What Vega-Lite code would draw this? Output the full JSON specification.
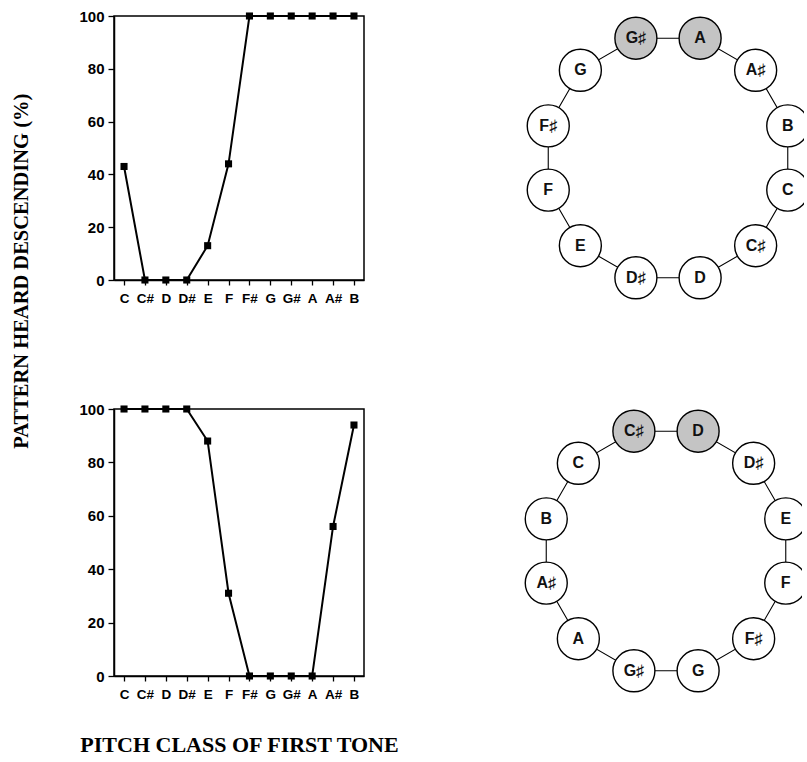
{
  "$schema": "https://vega.github.io/schema/vega-lite/v6.json",
  "padding": {"left": 11, "top": 8, "right": 0, "bottom": 5},
  "background": "#ffffff",
  "title": {
    "text": "PATTERN HEARD DESCENDING (%)",
    "orient": "left",
    "anchor": "middle",
    "font": "Liberation Serif",
    "fontSize": 20.5,
    "fontWeight": "bold",
    "color": "#000000",
    "offset": 46,
    "dx": 111
  },
  "datasets": {
    "upper": [
      {"pitch": "C", "pct": 43}, {"pitch": "C#", "pct": 0}, {"pitch": "D", "pct": 0},
      {"pitch": "D#", "pct": 0}, {"pitch": "E", "pct": 13}, {"pitch": "F", "pct": 44},
      {"pitch": "F#", "pct": 100}, {"pitch": "G", "pct": 100}, {"pitch": "G#", "pct": 100},
      {"pitch": "A", "pct": 100}, {"pitch": "A#", "pct": 100}, {"pitch": "B", "pct": 100}
    ],
    "lower": [
      {"pitch": "C", "pct": 100}, {"pitch": "C#", "pct": 100}, {"pitch": "D", "pct": 100},
      {"pitch": "D#", "pct": 100}, {"pitch": "E", "pct": 88}, {"pitch": "F", "pct": 31},
      {"pitch": "F#", "pct": 0}, {"pitch": "G", "pct": 0}, {"pitch": "G#", "pct": 0},
      {"pitch": "A", "pct": 0}, {"pitch": "A#", "pct": 56}, {"pitch": "B", "pct": 94}
    ],
    "ringUpper": [
      {"note": "G♯", "i": 0, "x": -0.259, "y": 0.966, "shade": "yes"},
      {"note": "A", "i": 1, "x": 0.259, "y": 0.966, "shade": "yes"},
      {"note": "A♯", "i": 2, "x": 0.707, "y": 0.707, "shade": "no"},
      {"note": "B", "i": 3, "x": 0.966, "y": 0.259, "shade": "no"},
      {"note": "C", "i": 4, "x": 0.966, "y": -0.259, "shade": "no"},
      {"note": "C♯", "i": 5, "x": 0.707, "y": -0.707, "shade": "no"},
      {"note": "D", "i": 6, "x": 0.259, "y": -0.966, "shade": "no"},
      {"note": "D♯", "i": 7, "x": -0.259, "y": -0.966, "shade": "no"},
      {"note": "E", "i": 8, "x": -0.707, "y": -0.707, "shade": "no"},
      {"note": "F", "i": 9, "x": -0.966, "y": -0.259, "shade": "no"},
      {"note": "F♯", "i": 10, "x": -0.966, "y": 0.259, "shade": "no"},
      {"note": "G", "i": 11, "x": -0.707, "y": 0.707, "shade": "no"}
    ],
    "ringLower": [
      {"note": "C♯", "i": 0, "x": -0.259, "y": 0.966, "shade": "yes"},
      {"note": "D", "i": 1, "x": 0.259, "y": 0.966, "shade": "yes"},
      {"note": "D♯", "i": 2, "x": 0.707, "y": 0.707, "shade": "no"},
      {"note": "E", "i": 3, "x": 0.966, "y": 0.259, "shade": "no"},
      {"note": "F", "i": 4, "x": 0.966, "y": -0.259, "shade": "no"},
      {"note": "F♯", "i": 5, "x": 0.707, "y": -0.707, "shade": "no"},
      {"note": "G", "i": 6, "x": 0.259, "y": -0.966, "shade": "no"},
      {"note": "G♯", "i": 7, "x": -0.259, "y": -0.966, "shade": "no"},
      {"note": "A", "i": 8, "x": -0.707, "y": -0.707, "shade": "no"},
      {"note": "A♯", "i": 9, "x": -0.966, "y": -0.259, "shade": "no"},
      {"note": "B", "i": 10, "x": -0.966, "y": 0.259, "shade": "no"},
      {"note": "C", "i": 11, "x": -0.707, "y": 0.707, "shade": "no"}
    ]
  },
  "spacing": 95,
  "vconcat": [
    {
      "spacing": 153,
      "hconcat": [
        {
          "width": 250,
          "height": 264,
          "data": {"name": "upper"},
          "encoding": {
            "x": {
              "field": "pitch", "type": "ordinal",
              "sort": ["C", "C#", "D", "D#", "E", "F", "F#", "G", "G#", "A", "A#", "B"],
              "scale": {"type": "point", "padding": 0.48},
              "axis": {"title": null, "labelAngle": 0}
            },
            "y": {
              "field": "pct", "type": "quantitative",
              "scale": {"domain": [0, 100], "nice": false},
              "axis": {"title": null, "values": [0, 20, 40, 60, 80, 100]}
            }
          },
          "layer": [
            {"mark": {"type": "line", "color": "#000000", "strokeWidth": 2}},
            {"mark": {"type": "point", "shape": "square", "filled": true, "size": 50, "color": "#000000", "opacity": 1}}
          ]
        },
        {
          "width": 286,
          "height": 284,
          "view": {"stroke": null},
          "data": {"name": "ringUpper"},
          "encoding": {
            "x": {"field": "x", "type": "quantitative", "scale": {"domain": [-1.21, 1.097], "nice": false, "zero": false}, "axis": null},
            "y": {"field": "y", "type": "quantitative", "scale": {"domain": [-1.145, 1.145], "nice": false, "zero": false}, "axis": null}
          },
          "layer": [
            {"mark": {"type": "line", "interpolate": "linear-closed", "color": "#000000", "strokeWidth": 1.1, "clip": true},
             "encoding": {"order": {"field": "i", "type": "quantitative"}}},
            {"mark": {"type": "point", "shape": "circle", "size": 1764, "filled": true, "stroke": "#000000", "strokeWidth": 1.4, "opacity": 1, "clip": true},
             "encoding": {"fill": {"field": "shade", "type": "nominal", "scale": {"domain": ["no", "yes"], "range": ["#ffffff", "#c4c4c4"]}, "legend": null}}},
            {"mark": {"type": "text", "font": "Liberation Sans", "fontSize": 16, "fontWeight": "bold", "color": "#111111", "baseline": "middle", "align": "center", "clip": true},
             "encoding": {"text": {"field": "note"}}}
          ]
        }
      ]
    },
    {
      "spacing": 116,
      "hconcat": [
        {
          "width": 250,
          "height": 267,
          "data": {"name": "lower"},
          "encoding": {
            "x": {
              "field": "pitch", "type": "ordinal",
              "sort": ["C", "C#", "D", "D#", "E", "F", "F#", "G", "G#", "A", "A#", "B"],
              "scale": {"type": "point", "padding": 0.48},
              "axis": {
                "title": "PITCH CLASS OF FIRST TONE", "labelAngle": 0,
                "titleFont": "Liberation Serif", "titleFontSize": 22, "titleFontWeight": "bold",
                "titleColor": "#000000", "titlePadding": 34
              }
            },
            "y": {
              "field": "pct", "type": "quantitative",
              "scale": {"domain": [0, 100], "nice": false},
              "axis": {"title": null, "values": [0, 20, 40, 60, 80, 100]}
            }
          },
          "layer": [
            {"mark": {"type": "line", "color": "#000000", "strokeWidth": 2}},
            {"mark": {"type": "point", "shape": "square", "filled": true, "size": 50, "color": "#000000", "opacity": 1}}
          ]
        },
        {
          "width": 286,
          "height": 284,
          "view": {"stroke": null},
          "data": {"name": "ringLower"},
          "encoding": {
            "x": {"field": "x", "type": "quantitative", "scale": {"domain": [-1.21, 1.097], "nice": false, "zero": false}, "axis": null},
            "y": {"field": "y", "type": "quantitative", "scale": {"domain": [-1.145, 1.145], "nice": false, "zero": false}, "axis": null}
          },
          "layer": [
            {"mark": {"type": "line", "interpolate": "linear-closed", "color": "#000000", "strokeWidth": 1.1, "clip": true},
             "encoding": {"order": {"field": "i", "type": "quantitative"}}},
            {"mark": {"type": "point", "shape": "circle", "size": 1764, "filled": true, "stroke": "#000000", "strokeWidth": 1.4, "opacity": 1, "clip": true},
             "encoding": {"fill": {"field": "shade", "type": "nominal", "scale": {"domain": ["no", "yes"], "range": ["#ffffff", "#c4c4c4"]}, "legend": null}}},
            {"mark": {"type": "text", "font": "Liberation Sans", "fontSize": 16, "fontWeight": "bold", "color": "#111111", "baseline": "middle", "align": "center", "clip": true},
             "encoding": {"text": {"field": "note"}}}
          ]
        }
      ]
    }
  ],
  "resolve": {"scale": {"fill": "independent"}},
  "config": {
    "view": {"stroke": "#000000", "strokeWidth": 1.5},
    "axis": {
      "domainColor": "#000000", "domainWidth": 1.5,
      "tickColor": "#000000", "tickWidth": 1.3,
      "labelColor": "#000000", "labelFont": "Liberation Sans", "labelFontWeight": "bold",
      "grid": false
    },
    "axisX": {"labelFontSize": 13.5, "tickSize": 5, "labelPadding": 6},
    "axisY": {"labelFontSize": 15, "tickSize": 6, "labelPadding": 4}
  }
}
